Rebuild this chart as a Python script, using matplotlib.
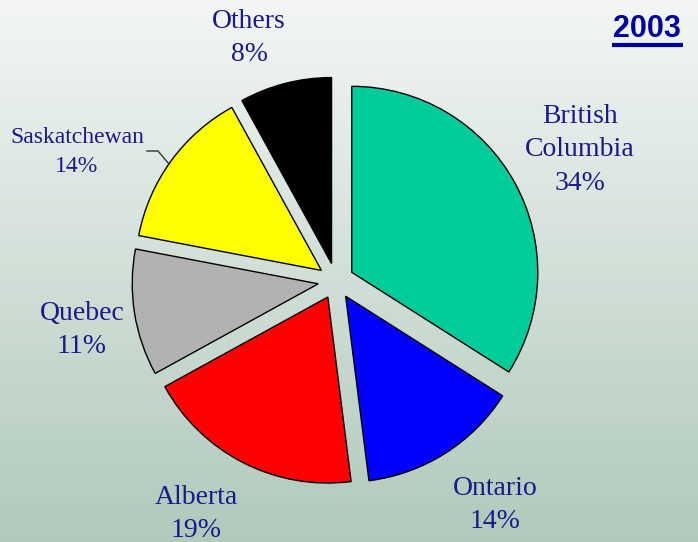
import numpy as np
import matplotlib.pyplot as plt

# share of total, 2003
provinces = ['British\nColumbia', 'Ontario', 'Alberta', 'Quebec', 'Saskatchewan', 'Others']
shares = [34, 14, 19, 11, 14, 8]
colors = ['#00CC99', '#0000FF', '#FF0000', '#B2B2B2', '#FFFF00', '#000000']
year = '2003'

W, H = 698, 542
fig = plt.figure(figsize=(W / 100, H / 100), dpi=100)
ax = fig.add_axes([0, 0, 1, 1])
ax.set_xlim(0, W)
ax.set_ylim(0, H)
ax.axis('off')

# background gradient, light at top, sage green at bottom
top = np.array([243, 246, 244]) / 255
bottom = np.array([176, 201, 187]) / 255
t = np.linspace(0, 1, 256)[:, None]
grad = top + (bottom - top) * t
ax.imshow(grad[:, None, :], extent=[0, W, 0, H], aspect='auto', zorder=0)

# explode is in data units (pixels here)
wedges, _ = ax.pie(shares, colors=colors, startangle=90, counterclock=False,
                   center=(336, 261), radius=186, explode=[18] * len(shares),
                   wedgeprops=dict(edgecolor='black', linewidth=1.0))
for w in wedges:
    w.set_zorder(2)
ax.set_xlim(0, W)
ax.set_ylim(0, H)
ax.set_aspect('equal')

txt_color = '#1a1a8a'
label_pos = [(580, 392), (495, 37), (196, 28), (82, 212), (77, 390), (249, 504)]
label_size = [20, 20, 20, 20, 17, 20]
label_ls = [1.47, 1.47, 1.47, 1.47, 1.55, 1.47]
for name, val, (x, y), fs, ls in zip(provinces, shares, label_pos, label_size, label_ls):
    ax.text(x, y, f'{name}\n{val}%', ha='center', va='center', color=txt_color,
            fontsize=fs, family='Liberation Serif', linespacing=ls, zorder=3)

# leader line for Saskatchewan
ax.plot([147, 158, 169], [391, 391, 378], color='#333333', lw=1, zorder=3)

ax.text(647, 513, year, ha='center', va='center', color='#0000A0',
        fontsize=22, fontweight='bold', family='Liberation Sans', zorder=3)
ax.plot([612, 683], [497, 497], color='#0000A0', lw=3, solid_capstyle='butt', zorder=3)

fig.savefig('out.png', dpi=100)
